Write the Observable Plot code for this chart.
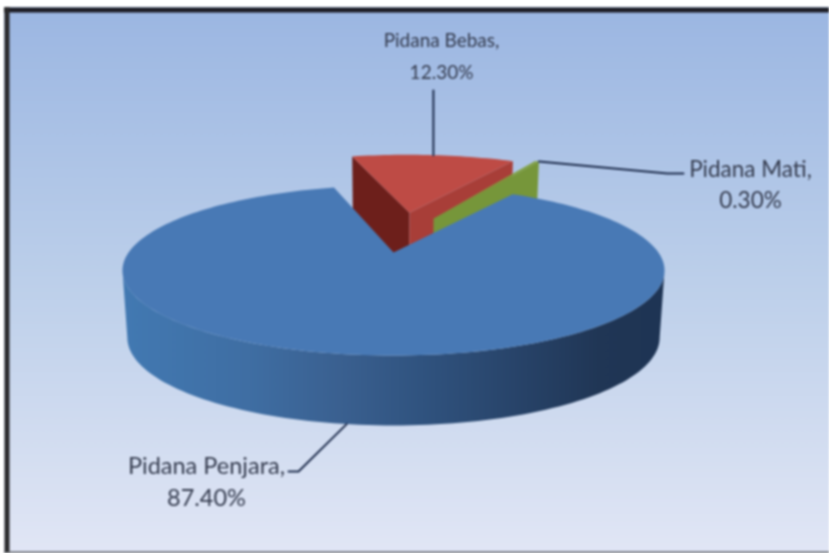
<!DOCTYPE html>
<html><head><meta charset="utf-8">
<style>html,body{margin:0;padding:0;background:#fff}svg{display:block}</style>
<script src="https://cdn.jsdelivr.net/npm/d3@7"></script>
<script src="https://cdn.jsdelivr.net/npm/@observablehq/plot@0.6"></script>
</head><body><div id="chart"></div>
<script>
// Data
const categories = ["Pidana Bebas", "Pidana Mati", "Pidana Penjara"];
const values = [12.3, 0.3, 87.4];

// 3D pie camera (perspective of a unit disc in picture space)
const apex = [393, 252], persp = 0.2118, scaleV = 81.2, scaleU = 264.9;
const ellipseY = 270, bottomY = 337, bottomScaleY = 88 / 85, bottomScaleX = 0.982;
const startDeg = -14.9;
// Per-slice explosion, in disc units; trims are small viewing corrections in degrees
const explode = [
  {ou: 0.067, ov: 0.545, r: 1.07, trimStart: 0, trimEnd: 0},
  {ou: 0.166, ov: 0.459, r: 1.15, trimStart: -1.7, trimEnd: -1.7},
  {ou: 0, ov: 0, r: 1, trimStart: 1.6, trimEnd: -0.8}
];
// Label layout: text anchor, font size, line height and leader elbows
const labelLayout = [
  {x: 441, y: 52, size: 19, lead: 1.68, elbow: []},
  {x: 750, y: 182, size: 22.5, lead: 1.36, elbow: [[667, 173], [683, 173]]},
  {x: 206, y: 479, size: 23.5, lead: 1.38, elbow: [[298, 471], [288, 471]]}
];

const rad = Math.PI / 180;
const arcs = d3.pie().sort(null).value(d => d)
  .startAngle(startDeg * rad).endAngle((startDeg + 360) * rad)(values)
  .map((a, i) => ({
    startAngle: a.startAngle + explode[i].trimStart * rad,
    endAngle: a.endAngle + explode[i].trimEnd * rad
  }));

function project(u, v, z) {
  const w = 1 + persp * v;
  const sx = apex[0] + scaleU * u / w;
  const sy = apex[1] - scaleV * v / w;
  if (!z) return [sx, sy];
  return [apex[0] + (sx - apex[0]) * (1 - (1 - bottomScaleX) * z),
          sy + z * (bottomY + (sy - ellipseY) * bottomScaleY - sy)];
}
function slicePoint(i, theta, rr, z) {
  const e = explode[i];
  return project(e.ou + rr * e.r * Math.sin(theta), e.ov + rr * e.r * Math.cos(theta), z);
}
function arcPoints(i, a0, a1, z) {
  const n = Math.max(2, Math.ceil(Math.abs(a1 - a0) / (1.5 * rad)));
  return d3.range(n + 1).map(k => slicePoint(i, a0 + (a1 - a0) * k / n, 1, z));
}
const topFace = i => [slicePoint(i, 0, 0, 0), ...arcPoints(i, arcs[i].startAngle, arcs[i].endAngle, 0)];
const cutFace = (i, a) => [slicePoint(i, a, 0, 0), slicePoint(i, a, 1, 0), slicePoint(i, a, 1, 1), slicePoint(i, a, 0, 1)];

// Blue rim: front half between the two silhouette angles
const silhouette = Math.acos(-0.2117);
const rim = [...arcPoints(2, 2 * Math.PI - silhouette, silhouette, 0),
             ...arcPoints(2, silhouette, 2 * Math.PI - silhouette, 1)];

const poly = (pts, fill) => Plot.line(pts, {x: d => d[0], y: d => d[1], fill, stroke: "none", curve: "linear"});

const defs = () => {
  const d = d3.create("svg:defs");
  const grad = (id, vertical, stops) => {
    const g = d.append("linearGradient").attr("id", id).attr("x1", 0).attr("y1", 0)
      .attr("x2", vertical ? 0 : 1).attr("y2", vertical ? 1 : 0);
    stops.forEach(([o, c]) => g.append("stop").attr("offset", o).attr("stop-color", c));
  };
  grad("bg", true, [[0, "#9bb6e2"], [0.5, "#bccfea"], [1, "#e1e6f5"]]);
  grad("rim", false, [[0, "#4279b2"], [0.23, "#3f6ea3"], [0.4, "#3a6090"], [0.55, "#30537f"], [0.72, "#28446a"], [0.88, "#203655"], [1, "#1e3454"]]);
  return d.node();
};

const labelText = categories.map((c, i) => `${c},\n${values[i].toFixed(2)}%`);
const midAngle = i => (arcs[i].startAngle + arcs[i].endAngle) / 2;
const leaders = [
  [slicePoint(0, midAngle(0), 1, 0), [slicePoint(0, midAngle(0), 1, 0)[0], 90]],
  [slicePoint(1, arcs[1].endAngle, 1, 0), ...labelLayout[1].elbow],
  [slicePoint(2, midAngle(2), 1, 1), ...labelLayout[2].elbow]
];

const plot = Plot.plot({
  width: 829, height: 553, margin: 0,
  x: {domain: [0, 829], range: [0, 829], axis: null},
  y: {domain: [0, 553], range: [0, 553], axis: null},
  style: {background: "#fff", filter: "blur(0.8px)"},
  marks: [
    defs,
    Plot.rect([0], {x1: () => 4, x2: () => 829, y1: () => 7, y2: () => 553, fill: "url(#bg)"}),
    Plot.ruleY([9.5], {x1: 4, x2: 829, stroke: "#1d1d24", strokeWidth: 5}),
    Plot.ruleX([6.5], {y1: 7, y2: 553, stroke: "#2b2a2c", strokeWidth: 5}),
    Plot.ruleY([552], {x1: 4, x2: 829, stroke: "#55585f", strokeWidth: 2}),
    poly(cutFace(0, arcs[0].startAngle), "#6d1f1b"),
    poly(cutFace(0, arcs[0].endAngle), "#a83e38"),
    poly(topFace(0), "#be4b45"),
    poly(cutFace(1, arcs[1].endAngle), "#76963a"),
    poly(topFace(1), "#80a03f"),
    poly(rim, "url(#rim)"),
    poly(topFace(2), "#4879b5"),
    ...leaders.map(l => Plot.line(l, {x: d => d[0], y: d => d[1], stroke: "#1d2c4c", strokeWidth: 2, curve: "linear"})),
    ...labelText.map((t, i) => Plot.text([t], {
      x: () => labelLayout[i].x, y: () => labelLayout[i].y,
      text: d => d, fontFamily: "Lato", fontSize: labelLayout[i].size, lineHeight: labelLayout[i].lead,
      fill: "#343b4e", textAnchor: "middle"
    }))
  ]
});
document.getElementById("chart").append(plot);
</script></body></html>
